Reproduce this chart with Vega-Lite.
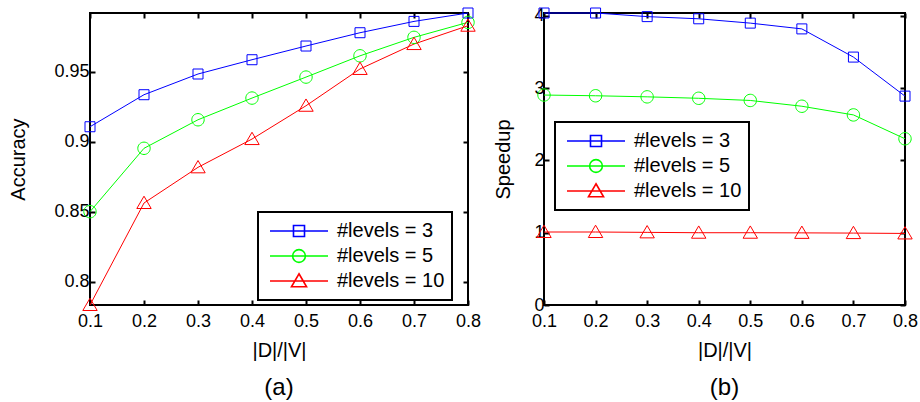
{
  "$schema": "https://vega.github.io/schema/vega-lite/v6.json",
  "background": "white",
  "padding": {"left": 7, "top": 5, "right": 5, "bottom": 5},
  "config": {
    "font": "Liberation Sans",
    "view": {"stroke": "black", "strokeWidth": 2},
    "axis": {"grid": false, "domain": false, "tickColor": "black", "tickWidth": 2, "tickSize": -5, "labelFontSize": 18, "labelColor": "black", "titleFontSize": 20, "titleFontWeight": "normal", "titleColor": "black", "labelFont": "Liberation Sans", "titleFont": "Liberation Sans", "labelFlush": false, "labelOverlap": false},
    "legend": {"title": null, "orient": "none", "strokeColor": "black", "strokeWidth": 2, "fillColor": "white", "padding": 7, "labelFontSize": 20, "labelFont": "Liberation Sans", "labelColor": "black", "symbolSize": 3364, "symbolStrokeWidth": 1.6, "rowPadding": 1, "clipHeight": 24, "labelOffset": 8, "symbolOffset": 4},
    "title": {"fontSize": 24, "fontWeight": "normal", "font": "Liberation Sans", "orient": "bottom", "offset": 16, "color": "black"},
    "concat": {"spacing": 10}
  },
  "datasets": {
    "acc": [
      {"r": 0.1, "s": "#levels = 3", "v": 0.9107},
      {"r": 0.2, "s": "#levels = 3", "v": 0.9336},
      {"r": 0.3, "s": "#levels = 3", "v": 0.9484},
      {"r": 0.4, "s": "#levels = 3", "v": 0.9586},
      {"r": 0.5, "s": "#levels = 3", "v": 0.9684},
      {"r": 0.6, "s": "#levels = 3", "v": 0.9779},
      {"r": 0.7, "s": "#levels = 3", "v": 0.986},
      {"r": 0.8, "s": "#levels = 3", "v": 0.992},
      {"r": 0.1, "s": "#levels = 5", "v": 0.85},
      {"r": 0.2, "s": "#levels = 5", "v": 0.8953},
      {"r": 0.3, "s": "#levels = 5", "v": 0.9157},
      {"r": 0.4, "s": "#levels = 5", "v": 0.9312},
      {"r": 0.5, "s": "#levels = 5", "v": 0.9462},
      {"r": 0.6, "s": "#levels = 5", "v": 0.9614},
      {"r": 0.7, "s": "#levels = 5", "v": 0.9746},
      {"r": 0.8, "s": "#levels = 5", "v": 0.9853},
      {"r": 0.1, "s": "#levels = 10", "v": 0.7833},
      {"r": 0.2, "s": "#levels = 10", "v": 0.8562},
      {"r": 0.3, "s": "#levels = 10", "v": 0.8817},
      {"r": 0.4, "s": "#levels = 10", "v": 0.9019},
      {"r": 0.5, "s": "#levels = 10", "v": 0.9257},
      {"r": 0.6, "s": "#levels = 10", "v": 0.952},
      {"r": 0.7, "s": "#levels = 10", "v": 0.9698},
      {"r": 0.8, "s": "#levels = 10", "v": 0.9829}
    ],
    "spd": [
      {"r": 0.1, "s": "#levels = 3", "v": 4.04},
      {"r": 0.2, "s": "#levels = 3", "v": 4.04},
      {"r": 0.3, "s": "#levels = 3", "v": 3.99},
      {"r": 0.4, "s": "#levels = 3", "v": 3.96},
      {"r": 0.5, "s": "#levels = 3", "v": 3.9},
      {"r": 0.6, "s": "#levels = 3", "v": 3.82},
      {"r": 0.7, "s": "#levels = 3", "v": 3.43},
      {"r": 0.8, "s": "#levels = 3", "v": 2.89},
      {"r": 0.1, "s": "#levels = 5", "v": 2.905},
      {"r": 0.2, "s": "#levels = 5", "v": 2.895},
      {"r": 0.3, "s": "#levels = 5", "v": 2.88},
      {"r": 0.4, "s": "#levels = 5", "v": 2.86},
      {"r": 0.5, "s": "#levels = 5", "v": 2.83},
      {"r": 0.6, "s": "#levels = 5", "v": 2.75},
      {"r": 0.7, "s": "#levels = 5", "v": 2.63},
      {"r": 0.8, "s": "#levels = 5", "v": 2.3},
      {"r": 0.1, "s": "#levels = 10", "v": 1.01},
      {"r": 0.2, "s": "#levels = 10", "v": 1.01},
      {"r": 0.3, "s": "#levels = 10", "v": 1.005},
      {"r": 0.4, "s": "#levels = 10", "v": 1.0},
      {"r": 0.5, "s": "#levels = 10", "v": 1.0},
      {"r": 0.6, "s": "#levels = 10", "v": 0.998},
      {"r": 0.7, "s": "#levels = 10", "v": 0.995},
      {"r": 0.8, "s": "#levels = 10", "v": 0.99}
    ]
  },
  "hconcat": [
    {
      "width": 378,
      "height": 292,
      "data": {"name": "acc"},
      "title": {"text": "(a)"},
      "layer": [
        {
          "mark": {"type": "line", "strokeWidth": 1},
          "encoding": {
            "x": {"field": "r", "type": "quantitative", "scale": {"domain": [0.1, 0.8], "nice": false, "zero": false}, "axis": {"orient": "bottom", "values": [0.1, 0.2, 0.3, 0.4, 0.5, 0.6, 0.7, 0.8], "format": "~g", "title": "|D|/|V|", "labelPadding": 12, "titlePadding": 10}},
            "y": {"field": "v", "type": "quantitative", "scale": {"domain": [0.7833, 0.992], "nice": false, "zero": false}, "axis": {"orient": "left", "values": [0.8, 0.85, 0.9, 0.95], "format": "~g", "title": "Accuracy", "labelPadding": 6, "titlePadding": 25}},
            "color": {"field": "s", "type": "nominal", "scale": {"domain": ["#levels = 3", "#levels = 5", "#levels = 10"], "range": ["#0000ff", "#00ff00", "#ff0000"]},
              "legend": {"legendX": 168, "legendY": 199, "symbolStrokeWidth": 1.6, "symbolType": {"expr": "datum.value === '#levels = 3' ? 'M-1,0H1M-0.19,-0.19H0.19V0.19H-0.19Z' : datum.value === '#levels = 5' ? 'M-1,0H1M0.22,0A0.22,0.22,0,1,1,-0.22,0A0.22,0.22,0,1,1,0.22,0Z' : 'M-1,0H1M0,-0.25L0.26,0.2L-0.26,0.2Z'"}}}
          }
        },
        {
          "mark": {"type": "point", "filled": false, "size": 400, "strokeWidth": 1, "opacity": 1},
          "encoding": {
            "x": {"field": "r", "type": "quantitative", "scale": {"domain": [0.1, 0.8], "nice": false, "zero": false}, "axis": {"orient": "top", "values": [0.1, 0.2, 0.3, 0.4, 0.5, 0.6, 0.7, 0.8], "labels": false, "title": null}},
            "y": {"field": "v", "type": "quantitative", "scale": {"domain": [0.7833, 0.992], "nice": false, "zero": false}, "axis": {"orient": "right", "values": [0.8, 0.85, 0.9, 0.95], "labels": false, "title": null}},
            "stroke": {"field": "s", "type": "nominal", "scale": {"range": ["#ff0000", "#0000ff", "#00ff00"]}, "legend": null},
            "shape": {"field": "s", "type": "nominal", "scale": {"range": ["M0,-0.68L0.72,0.55L-0.72,0.55Z", "M-0.5,-0.5H0.5V0.5H-0.5Z", "M0.62,0A0.62,0.62,0,1,1,-0.62,0A0.62,0.62,0,1,1,0.62,0Z"]}, "legend": null}
          }
        }
      ],
      "resolve": {"axis": {"x": "independent", "y": "independent"}}
    },
    {
      "width": 361,
      "height": 292,
      "data": {"name": "spd"},
      "title": {"text": "(b)"},
      "layer": [
        {
          "mark": {"type": "line", "strokeWidth": 1},
          "encoding": {
            "x": {"field": "r", "type": "quantitative", "scale": {"domain": [0.1, 0.8], "nice": false, "zero": false}, "axis": {"orient": "bottom", "values": [0.1, 0.2, 0.3, 0.4, 0.5, 0.6, 0.7, 0.8], "format": "~g", "title": "|D|/|V|", "labelPadding": 12, "titlePadding": 10}},
            "y": {"field": "v", "type": "quantitative", "scale": {"domain": [0, 4.04], "nice": false, "zero": false}, "axis": {"orient": "left", "values": [0, 1, 2, 3, 4], "format": "d", "title": "Speedup", "labelPadding": 5, "titlePadding": 20}},
            "color": {"field": "s", "type": "nominal", "scale": {"domain": ["#levels = 3", "#levels = 5", "#levels = 10"], "range": ["#0000ff", "#00ff00", "#ff0000"]},
              "legend": {"legendX": 11, "legendY": 109, "symbolStrokeWidth": 1.6, "symbolType": {"expr": "datum.value === '#levels = 3' ? 'M-1,0H1M-0.19,-0.19H0.19V0.19H-0.19Z' : datum.value === '#levels = 5' ? 'M-1,0H1M0.22,0A0.22,0.22,0,1,1,-0.22,0A0.22,0.22,0,1,1,0.22,0Z' : 'M-1,0H1M0,-0.25L0.26,0.2L-0.26,0.2Z'"}}}
          }
        },
        {
          "mark": {"type": "point", "filled": false, "size": 400, "strokeWidth": 1, "opacity": 1},
          "encoding": {
            "x": {"field": "r", "type": "quantitative", "scale": {"domain": [0.1, 0.8], "nice": false, "zero": false}, "axis": {"orient": "top", "values": [0.1, 0.2, 0.3, 0.4, 0.5, 0.6, 0.7, 0.8], "labels": false, "title": null}},
            "y": {"field": "v", "type": "quantitative", "scale": {"domain": [0, 4.04], "nice": false, "zero": false}, "axis": {"orient": "right", "values": [0, 1, 2, 3, 4], "labels": false, "title": null}},
            "stroke": {"field": "s", "type": "nominal", "scale": {"range": ["#ff0000", "#0000ff", "#00ff00"]}, "legend": null},
            "shape": {"field": "s", "type": "nominal", "scale": {"range": ["M0,-0.68L0.72,0.55L-0.72,0.55Z", "M-0.5,-0.5H0.5V0.5H-0.5Z", "M0.62,0A0.62,0.62,0,1,1,-0.62,0A0.62,0.62,0,1,1,0.62,0Z"]}, "legend": null}
          }
        }
      ],
      "resolve": {"axis": {"x": "independent", "y": "independent"}}
    }
  ],
  "resolve": {"scale": {"color": "independent", "shape": "independent", "stroke": "independent"}, "legend": {"color": "independent", "shape": "independent", "stroke": "independent"}}
}
